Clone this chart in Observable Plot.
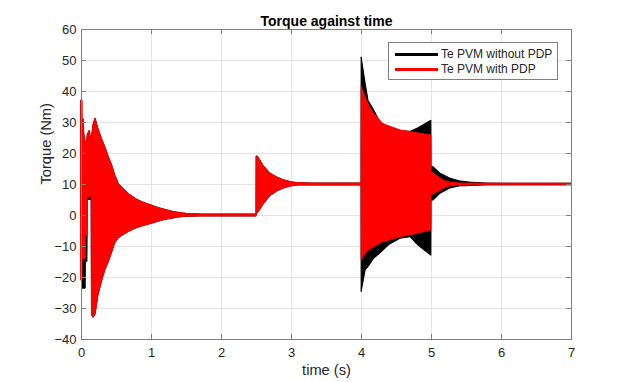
<!DOCTYPE html>
<html>
<head>
<meta charset="utf-8">
<script src="https://cdn.jsdelivr.net/npm/d3@7"></script>
<script src="https://cdn.jsdelivr.net/npm/@observablehq/plot@0.6"></script>
<style>
  html, body { margin: 0; padding: 0; background: #fff; }
  #chart { position: relative; width: 631px; height: 382px; font-family: "Liberation Sans", Arial, sans-serif; }
  #legend { position: absolute; left: 388px; top: 42px; width: 170px; height: 38px; box-sizing: border-box;
            border: 1px solid #808080; background: #fff; font-size: 12px; color: #262626; }
  .row { position: absolute; left: 0; height: 14px; width: 100%; }
  .swatch { position: absolute; left: 6px; top: 6px; width: 43px; height: 3px; }
  .lab { position: absolute; left: 52px; top: 0; line-height: 14px; white-space: nowrap; }
</style>
</head>
<body>
<div id="chart">
  <div id="legend">
    <div class="row" style="top:4px"><div class="swatch" id="sw0"></div><div class="lab" id="lab0"></div></div>
    <div class="row" style="top:19px"><div class="swatch" id="sw1"></div><div class="lab" id="lab1"></div></div>
  </div>
</div>
<script>
// ---- Data (envelopes of the fast oscillation) ----
const title = "Torque against time";
const xLabel = "time (s)";
const yLabel = "Torque (Nm)";
const seriesNames = ["Te PVM without PDP", "Te PVM with PDP"];
const seriesColors = ["#000000", "#ff0000"];
const xTicks = [0, 1, 2, 3, 4, 5, 6, 7];
const yTicks = [-40, -30, -20, -10, 0, 10, 20, 30, 40, 50, 60];

// Te PVM without PDP (black): time, upper envelope, lower envelope
const blackT  = [0.000, 0.012, 0.014, 0.060, 0.062, 0.085, 0.090, 0.120, 0.145, 0.150, 0.170, 0.200, 0.240, 0.290, 0.340, 0.390, 0.440, 0.480, 0.530, 0.600, 0.700, 0.800, 0.900, 1.000, 1.100, 1.200, 1.300, 1.400, 1.500, 1.700, 2.500, 2.502, 2.520, 2.600, 2.700, 2.800, 2.900, 3.000, 3.100, 3.300, 4.000, 4.002, 4.060, 4.100, 4.180, 4.270, 4.400, 4.560, 4.700, 4.800, 4.900, 4.998, 5.000, 5.030, 5.130, 5.270, 5.410, 5.560, 5.800, 6.100, 7.000];
const blackHi = [37, 37, 31, 22.6, 23, 25, 26, 27.4, 22.6, 25, 29, 31.3, 28, 24.8, 22, 18.8, 16, 13, 10.3, 8.5, 6.5, 5, 4, 3.2, 2.4, 1.8, 1.2, 0.8, 0.5, 0.3, 0.3, 19, 19, 16, 13.5, 12.2, 11.3, 10.7, 10.4, 10.3, 10.3, 51, 42.5, 37, 34, 30, 28.3, 27.2, 27, 28, 29.3, 30.6, 15.6, 15.6, 13.5, 11.9, 11, 10.6, 10.3, 10.25, 10.25];
const blackLo = [-17, -21, -23.6, -23.6, -15, -15, 5, 5, 5, -32, -33, -32, -26, -21.5, -17.7, -15, -11.8, -9, -7.4, -6.3, -5, -4, -3.3, -2.7, -2, -1.4, -1, -0.6, -0.4, -0.3, -0.3, 0.3, 0.7, 3.5, 6.3, 7.8, 8.8, 9.4, 9.7, 9.7, 9.7, -24.7, -17.7, -16.7, -14, -12.3, -9.5, -7.5, -7, -9.5, -11.3, -13, 4.8, 4.8, 7, 8.7, 9.4, 9.5, 9.75, 9.75, 9.75];

// Te PVM with PDP (red): time, upper envelope, lower envelope
const redT  = [0.000, 0.012, 0.014, 0.035, 0.040, 0.060, 0.062, 0.085, 0.090, 0.120, 0.145, 0.150, 0.170, 0.200, 0.240, 0.290, 0.340, 0.390, 0.440, 0.480, 0.530, 0.600, 0.700, 0.800, 0.900, 1.000, 1.100, 1.200, 1.300, 1.400, 1.500, 1.700, 2.500, 2.502, 2.520, 2.600, 2.700, 2.800, 2.900, 3.000, 3.100, 3.300, 4.000, 4.002, 4.060, 4.120, 4.180, 4.310, 4.560, 4.800, 4.998, 5.000, 5.130, 5.200, 5.270, 5.400, 5.600, 7.000];
const redHi = [37, 37, 31, 31, 26, 22.6, 23, 25, 26, 27.4, 22.6, 25, 29, 31.3, 28, 24.8, 22, 18.8, 16, 13, 10.3, 8.5, 6.5, 5, 4, 3.2, 2.4, 1.8, 1.2, 0.8, 0.5, 0.3, 0.3, 19, 19, 16, 13.5, 12.2, 11.3, 10.7, 10.4, 10.3, 10.3, 41.4, 38, 35, 32.8, 29.5, 27.4, 26.5, 25.8, 14, 12, 11, 10.6, 10.3, 10.25, 10.25];
const redLo = [-21, -21, -14, -14, -14, -14, -6.5, -6.5, 6, 6, 6, -32, -33, -32, -26, -21.5, -17.7, -15, -11.8, -9, -7.4, -6.3, -5, -4, -3.3, -2.7, -2, -1.4, -1, -0.6, -0.4, -0.3, -0.3, 0.3, 0.7, 3.5, 6.3, 7.8, 8.8, 9.4, 9.7, 9.7, 9.7, -14.5, -12.3, -11, -10.2, -8.6, -7, -5.9, -4.8, 6.5, 8, 9, 9.4, 9.7, 9.75, 9.75];

const blackData = blackT.map((t, i) => ({t, hi: blackHi[i], lo: blackLo[i]}));
const redData = redT.map((t, i) => ({t, hi: redHi[i], lo: redLo[i]}));

const W = 631, H = 382, mL = 81, mR = 60, mT = 29, mB = 43;
const fw = W - mL - mR, fh = H - mT - mB;
const axisColor = "#808080", textColor = "#262626", gridColor = "#e3e3e3";
const tickLen = 5;

const chart = Plot.plot({
  width: W, height: H,
  marginLeft: mL, marginRight: mR, marginTop: mT, marginBottom: mB,
  style: {fontFamily: "'Liberation Sans', Arial, sans-serif", fontSize: "13px", color: textColor, background: "#fff", overflow: "visible"},
  x: {domain: [0, 7]},
  y: {domain: [-40, 60]},
  marks: [
    Plot.gridX(xTicks, {stroke: gridColor, strokeOpacity: 1}),
    Plot.gridY(yTicks, {stroke: gridColor, strokeOpacity: 1}),
    Plot.areaY(blackData, {x: "t", y1: "lo", y2: "hi", fill: seriesColors[0], stroke: seriesColors[0], strokeWidth: 1}),
    Plot.areaY(redData, {x: "t", y1: "lo", y2: "hi", fill: seriesColors[1], stroke: seriesColors[1], strokeWidth: 1}),
    Plot.tickY(yTicks, {y: d => d, insetRight: fw - tickLen, stroke: axisColor}),
    Plot.tickY(yTicks, {y: d => d, insetLeft: fw - tickLen, stroke: axisColor}),
    Plot.tickX(xTicks, {x: d => d, insetTop: fh - tickLen, stroke: axisColor}),
    Plot.tickX(xTicks, {x: d => d, insetBottom: fh - tickLen, stroke: axisColor}),
    Plot.frame({stroke: axisColor}),
    Plot.axisX(xTicks, {tickSize: 0, tickPadding: 8, label: null, fill: textColor}),
    Plot.axisY(yTicks, {tickSize: 0, tickPadding: 5, label: null, fill: textColor}),
    Plot.text([xLabel], {frameAnchor: "bottom", dy: 35, fontSize: 14.67, fill: textColor}),
    Plot.text([yLabel], {frameAnchor: "left", dx: -35, rotate: -90, fontSize: 14.67, fill: textColor}),
    Plot.text([title], {frameAnchor: "top", dy: -13, fontSize: 14, fontWeight: "bold", fill: "#000"})
  ]
});
const root = document.getElementById("chart");
root.insertBefore(chart, root.firstChild);
document.getElementById("sw0").style.background = seriesColors[0];
document.getElementById("sw1").style.background = seriesColors[1];
document.getElementById("lab0").textContent = seriesNames[0];
document.getElementById("lab1").textContent = seriesNames[1];
</script>
</body>
</html>
